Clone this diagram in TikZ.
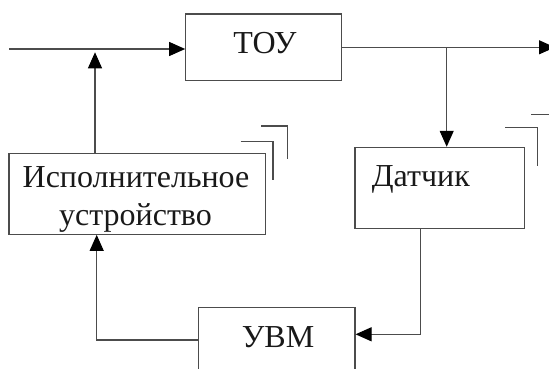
\documentclass[tikz,border=0pt]{standalone}
\usepackage{fontspec}
\setmainfont{Liberation Serif}
\usetikzlibrary{arrows.meta}
\begin{document}
\begin{tikzpicture}[x=1pt,y=-1pt,
  ln/.style={draw=black!70, line width=1.1pt},
  box/.style={ln, inner sep=0pt, minimum width=#1},
  arr/.style={ln, -{Triangle[length=16pt,width=14pt,color=black]}},
  lbl/.style={anchor=base, inner sep=0pt, font=\fontsize{32}{32}\selectfont, text=black!90}]
\useasboundingbox (0,0) rectangle (549,369);
\clip (0,0) rectangle (549,369);
% boxes
\node[box=156pt, minimum height=66.7pt] (tou) at (263.7,47.35) {};
\node[box=256.7pt, minimum height=81pt] (act) at (137.35,193.8) {};
\node[box=169.3pt, minimum height=81pt] (dat) at (439.65,187.8) {};
\node[box=156.7pt, minimum height=81pt] (uvm) at (276.65,348.2) {};
% texts
\node[lbl] (toutxt) at (265,54) {ТОУ};
\node[lbl] (acttxt1) at (136,187) {Исполнительное};
\node[lbl] (acttxt2) at (135.5,225) {устройство};
\node[lbl] (dattxt) at (420.8,186.7) {Датчик};
\node[lbl] (uvmtxt) at (278,347.3) {УВМ};
% connectors
\coordinate (in) at (9,49);
\coordinate (out) at (555,47.3);
\coordinate (br) at (446.7,47.3);
\coordinate (c1) at (420.7,334.3);
\coordinate (c2) at (96.7,340);
\coordinate (c3) at (95,52.3);
\draw[arr] (in) -- (in -| tou.west);
\draw[arr] (tou.east |- out) -- (out);
\draw[arr] (br) -- (br |- dat.north);
\draw[arr] (c1 |- dat.south) -- (c1) -- (c1 -| uvm.east);
\draw[arr] (c2 -| uvm.west) -- (c2) -- (c2 |- act.south);
\draw[arr] (c3 |- act.north) -- (c3);
% corner marks
\draw[ln] (240.7,141.7) -- (273,141.7) -- (273,180);
\draw[ln] (261,126) -- (287.3,126) -- (287.3,159.3);
\draw[ln] (505,127.7) -- (537.7,127.7) -- (537.7,166);
\draw[ln] (531,114.3) -- (553,114.3) -- (553,150);
\end{tikzpicture}
\end{document}
